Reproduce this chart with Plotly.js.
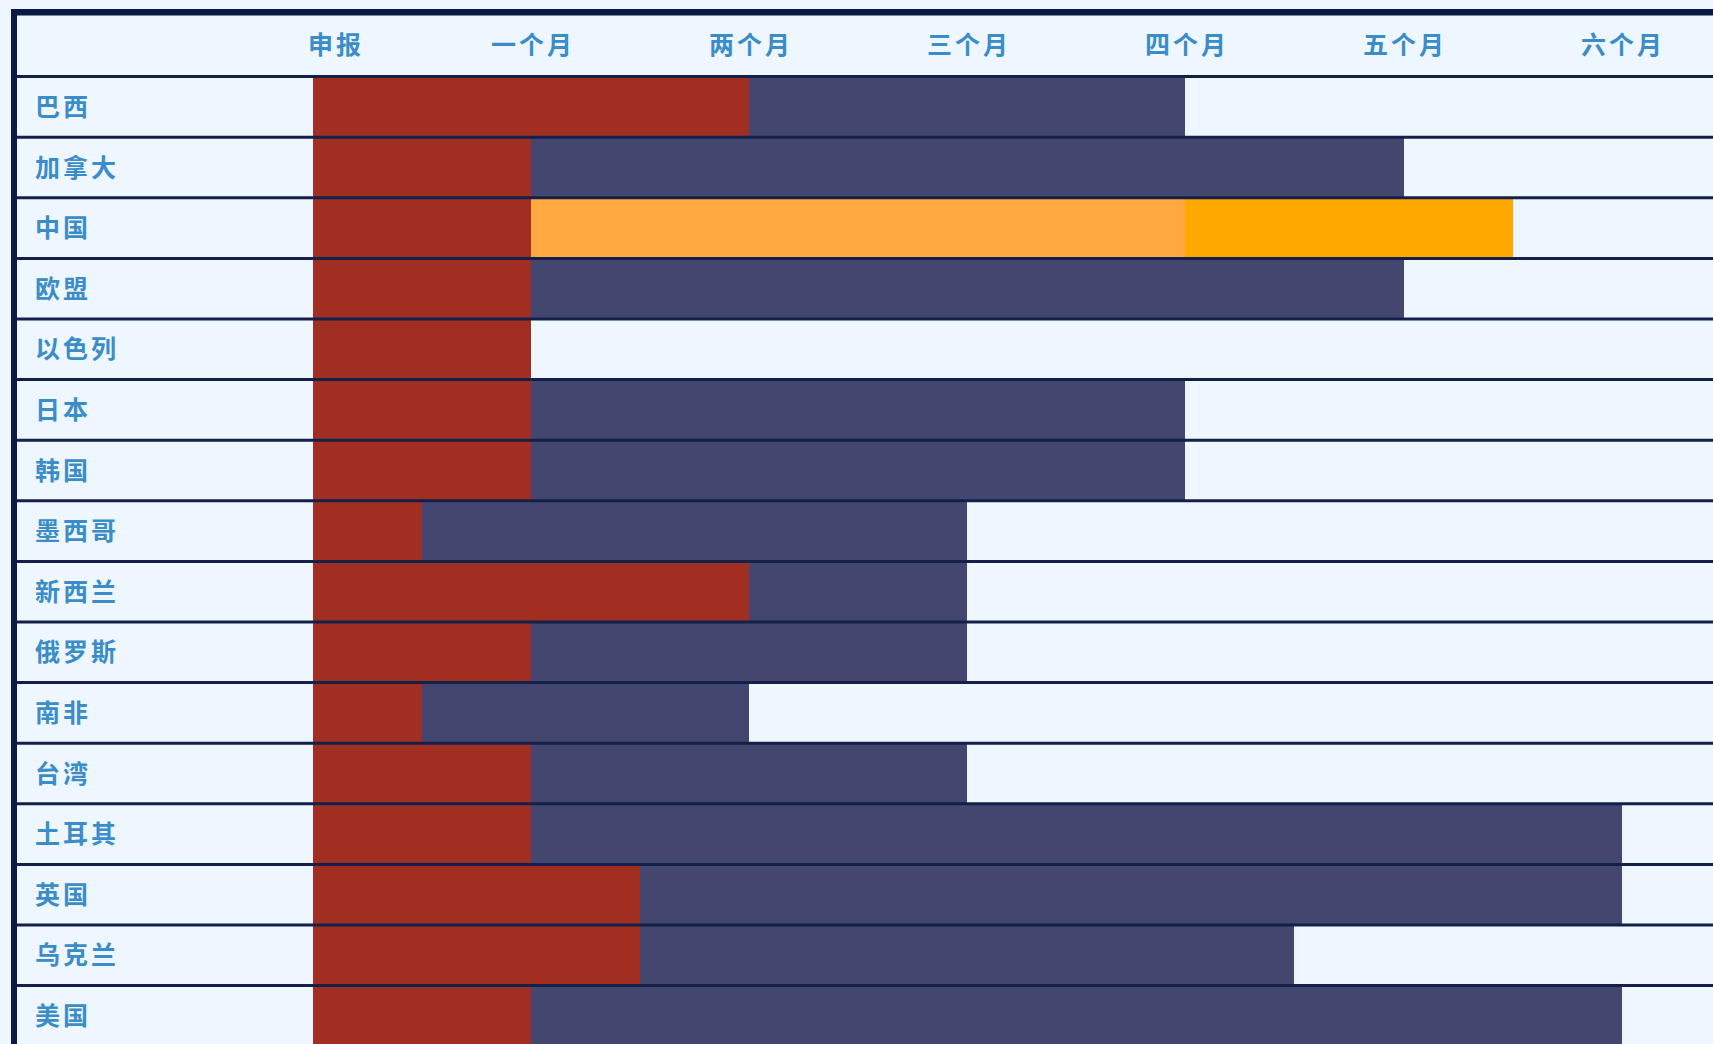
<!DOCTYPE html>
<html>
<head>
<meta charset="utf-8">
<script src="https://cdn.plot.ly/plotly-3.0.1.min.js"></script>
<style>
  html, body { margin: 0; padding: 0; background: #EEF6FF; }
  #chart { width: 1713px; height: 1044px; }
  .annotation-text { letter-spacing: 3px; }
</style>
</head>
<body>
<div id="chart"></div>
<script>
// ---- data ----
const countries = ['巴西','加拿大','中国','欧盟','以色列','日本','韩国','墨西哥','新西兰','俄罗斯','南非','台湾','土耳其','英国','乌克兰','美国'];
// end of the first (red) phase, in months
const phase1End = [2, 1, 1, 1, 1, 1, 1, 0.5, 2, 1, 0.5, 1, 1, 1.5, 1.5, 1];
// end of the second (navy) phase, in months (null = none)
const phase2End = [4, 5, null, 5, null, 4, 4, 3, 3, 3, 2, 3, 6, 6, 4.5, 6];
// China's special phases
const chinaRow = '中国';
const chinaPhaseAEnd = 4;    // light orange
const chinaPhaseBEnd = 5.5;  // orange
const tickVals = [0.1, 1, 2, 3, 4, 5, 6];
const tickText = ['申报','一个月','两个月','三个月','四个月','五个月','六个月'];

// ---- styles ----
const W = 1713, H = 1044;
const RED = '#A02F22', NAVY = '#43466E', LORANGE = '#FFA940', ORANGE = '#FFA800';
const BG = '#EEF6FF', LINE = '#15204A', BORDER = '#0B1A42', TXT = '#3A8DC9';
const FONT = '"Noto Sans CJK SC", "Noto Sans", sans-serif';

const rows = countries.map((_, i) => i);
const chinaIdx = countries.indexOf(chinaRow);

const traces = [];
// red phase
traces.push({
  type: 'bar', orientation: 'h', y: rows,
  base: rows.map(() => 0), x: phase1End, width: rows.map(() => 1),
  marker: { color: RED, line: { width: 0 } }, hoverinfo: 'skip', showlegend: false
});
// navy phase
const navyRows = [], navyBase = [], navyLen = [];
phase2End.forEach((e, i) => {
  if (e !== null) { navyRows.push(i); navyBase.push(phase1End[i]); navyLen.push(e - phase1End[i]); }
});
traces.push({
  type: 'bar', orientation: 'h', y: navyRows,
  base: navyBase, x: navyLen, width: navyRows.map(() => 1),
  marker: { color: NAVY, line: { width: 0 } }, hoverinfo: 'skip', showlegend: false
});
// China phases
traces.push({
  type: 'bar', orientation: 'h', y: [chinaIdx],
  base: [phase1End[chinaIdx]], x: [chinaPhaseAEnd - phase1End[chinaIdx]], width: [1],
  marker: { color: LORANGE, line: { width: 0 } }, hoverinfo: 'skip', showlegend: false
});
traces.push({
  type: 'bar', orientation: 'h', y: [chinaIdx],
  base: [chinaPhaseAEnd], x: [chinaPhaseBEnd - chinaPhaseAEnd], width: [1],
  marker: { color: ORANGE, line: { width: 0 } }, hoverinfo: 'skip', showlegend: false
});

// geometry in pixels
const plotLeftPx = 17, plotTopPx = 16;
const x0Px = 313, monthPx = 218.1;
const rowPx = 60.6;
const xMin = (plotLeftPx - x0Px) / monthPx;
const xMax = (W - x0Px) / monthPx;
const plotH = H - plotTopPx;
const yTop = -1.5;
const yBottom = yTop + plotH / rowPx;

const shapes = [];
// row separators
for (let k = -1; k < countries.length; k++) {
  shapes.push({
    type: 'line', xref: 'paper', yref: 'y',
    x0: plotLeftPx / W, x1: 1, y0: k + 0.5, y1: k + 0.5,
    line: { color: LINE, width: 3 }, layer: 'above'
  });
}
// frame borders
shapes.push({ type: 'rect', xref: 'paper', yref: 'paper',
  x0: 11 / W, x1: 1, y0: 1 - 15.5 / H, y1: 1 - 9 / H,
  fillcolor: BORDER, line: { width: 0 }, layer: 'above' });
shapes.push({ type: 'rect', xref: 'paper', yref: 'paper',
  x0: 11 / W, x1: 17 / W, y0: 0, y1: 1 - 9 / H,
  fillcolor: BORDER, line: { width: 0 }, layer: 'above' });

const annotations = [];
countries.forEach((c, i) => {
  annotations.push({
    xref: 'paper', yref: 'y', x: 33 / W, y: i, xanchor: 'left', yanchor: 'middle',
    yshift: 2,
    text: c, showarrow: false,
    font: { family: FONT, size: 25, color: TXT, weight: 'bold' }
  });
});
tickVals.forEach((v, i) => {
  annotations.push({
    xref: 'x', yref: 'y', x: v, y: -1, xanchor: 'center', yanchor: 'middle',
    xshift: 1.5, yshift: 3,
    text: tickText[i], showarrow: false,
    font: { family: FONT, size: 25, color: TXT, weight: 'bold' }
  });
});

const layout = {
  width: W, height: H, autosize: false,
  margin: { l: 0, r: 0, t: 0, b: 0, pad: 0 },
  paper_bgcolor: BG, plot_bgcolor: BG,
  barmode: 'overlay', bargap: 0,
  showlegend: false,
  xaxis: { domain: [plotLeftPx / W, 1], range: [xMin, xMax], showgrid: false, zeroline: false,
           showticklabels: false, ticks: '', showline: false, fixedrange: true },
  yaxis: { domain: [0, 1 - plotTopPx / H], range: [yBottom, yTop], showgrid: false, zeroline: false,
           showticklabels: false, ticks: '', showline: false, fixedrange: true },
  shapes: shapes,
  annotations: annotations
};

Plotly.newPlot('chart', traces, layout, { displayModeBar: false, staticPlot: true });
</script>
</body>
</html>
